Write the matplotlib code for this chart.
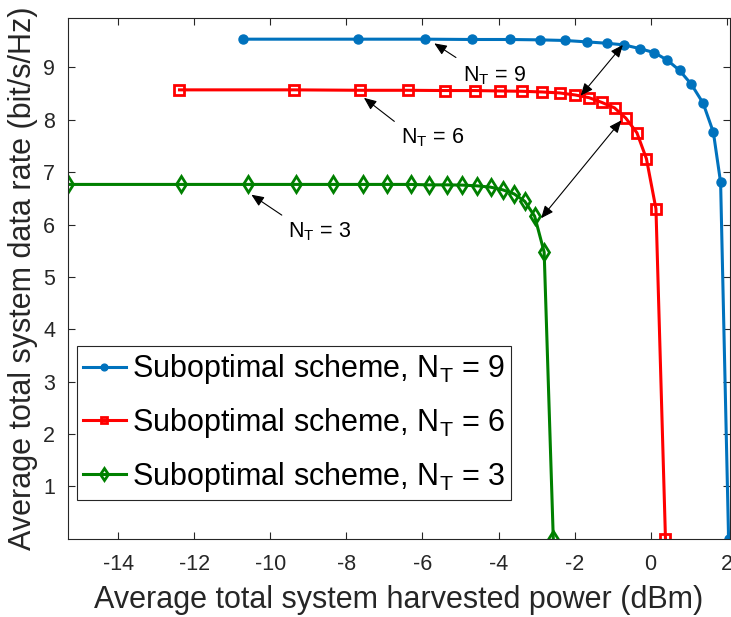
import matplotlib
matplotlib.use("Agg")
import matplotlib.pyplot as plt

plt.rcParams['font.family'] = ['Liberation Sans', 'DejaVu Sans']
plt.rcParams['mathtext.fontset'] = 'custom'
plt.rcParams['mathtext.rm'] = 'Liberation Sans'
plt.rcParams['mathtext.it'] = 'Liberation Sans'
plt.rcParams['axes.unicode_minus'] = False

# ---- data ----
x_nt9 = [-10.71, -7.69, -5.93, -4.69, -3.71, -2.92, -2.25, -1.67, -1.15, -0.70,
         -0.28, 0.10, 0.44, 0.76, 1.07, 1.38, 1.65, 1.84, 2.05]
y_nt9 = [9.540, 9.540, 9.540, 9.534, 9.534, 9.527, 9.515, 9.488, 9.462, 9.431,
         9.359, 9.282, 9.139, 8.944, 8.679, 8.318, 7.761, 6.804, 0.0]

x_nt6 = [-12.39, -9.38, -7.63, -6.39, -5.41, -4.63, -3.97, -3.38, -2.86, -2.39,
         -1.99, -1.62, -1.28, -0.95, -0.65, -0.36, -0.11, 0.14, 0.39]
y_nt6 = [8.572, 8.572, 8.564, 8.564, 8.559, 8.559, 8.551, 8.545, 8.532, 8.513,
         8.475, 8.423, 8.331, 8.228, 8.030, 7.751, 7.255, 6.300, 0.0]

x_nt3 = [-15.33, -12.34, -10.58, -9.32, -8.36, -7.57, -6.92, -6.31, -5.82, -5.35,
         -4.95, -4.57, -4.21, -3.89, -3.59, -3.31, -3.05, -2.80, -2.56]
y_nt3 = [6.766, 6.766, 6.766, 6.766, 6.766, 6.766, 6.766, 6.766, 6.758, 6.758,
         6.753, 6.739, 6.714, 6.663, 6.585, 6.443, 6.159, 5.473, 0.0]

labels = ['Suboptimal scheme, N$_T$ = 9',
          'Suboptimal scheme, N$_T$ = 6',
          'Suboptimal scheme, N$_T$ = 3']

x_ticks = [-14, -12, -10, -8, -6, -4, -2, 0, 2]
y_ticks = [1, 2, 3, 4, 5, 6, 7, 8, 9]

# ---- figure ----
fig = plt.figure(figsize=(7.31, 6.17), dpi=100)
ax = fig.add_axes([0.0926, 0.1269, 0.9067, 0.8444])

ax.plot(x_nt9, y_nt9, '-o', color='#0072BD', lw=2.2, ms=6.5,
        mfc='#0072BD', mec='#0072BD', label=labels[0])
ax.plot(x_nt6, y_nt6, '-s', color='#FF0000', lw=2.2, ms=6.5,
        mfc='none', mec='#FF0000', mew=2, label=labels[1])
ax.plot(x_nt3, y_nt3, '-d', color='#008000', lw=2.2, ms=8.5,
        mfc='none', mec='#008000', mew=2, label=labels[2])

ax.set_xlim(-15.33, 2.1)
ax.set_ylim(0, 9.95)
ax.set_xticks(x_ticks)
ax.set_yticks(y_ticks)
ax.tick_params(direction='in', top=True, right=True, length=5,
               width=0.8, colors='#262626', labelsize=15.5)
ax.tick_params(axis='x', pad=11)
ax.tick_params(axis='y', pad=9)
for s in ax.spines.values():
    s.set_color('#262626')
    s.set_linewidth(0.8)

ax.set_xlabel('Average total system harvested power (dBm)', fontsize=22,
              color='#262626', labelpad=7)
ax.set_ylabel('Average total system data rate (bit/s/Hz)', fontsize=22,
              color='#262626', labelpad=4)

# ---- annotations ----
head = dict(arrowstyle='-|>,head_length=0.75,head_width=0.32', color='k',
            lw=0.8, shrinkA=0, shrinkB=0, mutation_scale=10)
both = dict(arrowstyle='<|-|>,head_length=0.75,head_width=0.32', color='k',
            lw=0.8, shrinkA=0, shrinkB=0, mutation_scale=10)

ax.annotate('', xy=(-5.69, 9.46), xytext=(-5.12, 9.19), arrowprops=head)
ax.text(-4.93, 8.73, 'N$_T$ = 9', fontsize=15.5, va='baseline')

ax.annotate('', xy=(-7.54, 8.42), xytext=(-6.74, 7.97), arrowprops=head)
ax.text(-6.57, 7.54, 'N$_T$ = 6', fontsize=15.5, va='baseline')

ax.annotate('', xy=(-10.50, 6.57), xytext=(-9.70, 6.18), arrowprops=head)
ax.text(-9.53, 5.75, 'N$_T$ = 3', fontsize=15.5, va='baseline')

ax.annotate('', xy=(-1.84, 8.46), xytext=(-0.73, 9.43), arrowprops=both)
ax.annotate('', xy=(-2.88, 6.12), xytext=(-0.77, 7.99), arrowprops=both)

leg = ax.legend(loc='lower left', bbox_to_anchor=(0.014, 0.074), fontsize=22,
                frameon=True, fancybox=False, framealpha=1, edgecolor='#262626',
                handlelength=1.4, handletextpad=0.2, labelspacing=0.65,
                borderpad=0.2, borderaxespad=0, markerscale=0.75)
leg.get_frame().set_linewidth(0.8)

fig.savefig('out.png', dpi=100)
